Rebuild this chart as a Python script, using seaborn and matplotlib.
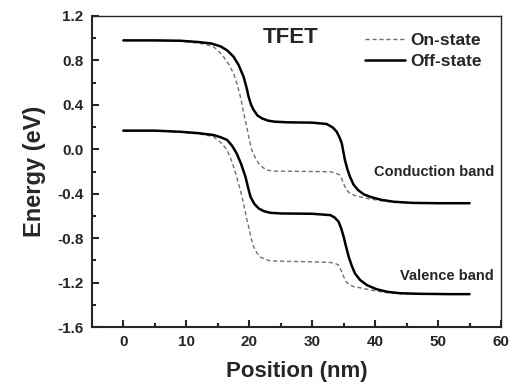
import matplotlib
matplotlib.use("Agg")
import matplotlib.pyplot as plt
from matplotlib.ticker import MultipleLocator
from matplotlib.lines import Line2D
import seaborn as sns
import pandas as pd

off_cb_x = [0, 5, 9, 12, 14, 15.5, 16.5, 17.5, 18.3, 19.1, 19.6, 19.9, 20.3, 20.7, 21.3, 22.0, 23.0, 24, 26, 30,
            32.3, 33.3, 33.9, 34.4, 34.7, 35.2, 35.6, 36.0, 36.6, 37.3, 38.2, 39.2, 41, 43, 46, 50, 55]
off_cb_y = [0.98, 0.98, 0.977, 0.965, 0.952, 0.925, 0.89, 0.834, 0.76, 0.653, 0.55, 0.473, 0.40, 0.354, 0.305,
            0.279, 0.258, 0.249, 0.243, 0.240, 0.228, 0.195, 0.158, 0.10, 0.054, -0.096, -0.18, -0.247, -0.32,
            -0.367, -0.405, -0.427, -0.455, -0.472, -0.482, -0.485, -0.485]

on_cb_x = [0, 5, 9, 12, 13.5, 14.3, 15.2, 15.9, 16.8, 17.5, 18.1, 18.6, 19.1, 19.6, 20.0, 20.4, 21.0, 21.5, 22.2,
           22.8, 24, 28, 32.9, 33.8, 34.4, 34.8, 35.2, 35.6, 36.0, 36.8, 37.6, 39, 40.3, 42, 44, 47, 50, 55]
on_cb_y = [0.98, 0.98, 0.975, 0.955, 0.937, 0.924, 0.88, 0.834, 0.76, 0.684, 0.58, 0.473, 0.33, 0.203, 0.09,
           -0.006, -0.08, -0.126, -0.165, -0.187, -0.196, -0.198, -0.202, -0.215, -0.232, -0.28, -0.337, -0.372,
           -0.397, -0.416, -0.427, -0.445, -0.457, -0.47, -0.478, -0.483, -0.485, -0.485]

off_vb_x = [0, 5, 9, 12, 14.3, 15.5, 16.5, 17.3, 18.0, 18.7, 19.4, 19.8, 20.2, 20.8, 21.5, 22.3, 23.3, 25, 30,
            32.9, 33.6, 34.2, 34.6, 35.0, 35.4, 35.8, 36.3, 36.8, 37.6, 38.7, 40.2, 41.9, 44, 47, 51.9, 55]
off_vb_y = [0.168, 0.168, 0.158, 0.145, 0.129, 0.108, 0.084, 0.03, -0.036, -0.13, -0.247, -0.34, -0.427, -0.49,
            -0.532, -0.556, -0.571, -0.577, -0.580, -0.592, -0.615, -0.652, -0.71, -0.787, -0.88, -0.967, -1.05,
            -1.117, -1.175, -1.222, -1.258, -1.282, -1.295, -1.300, -1.303, -1.303]

on_vb_x = [0, 5, 9, 12, 14.3, 15.5, 16.5, 17.3, 18.0, 18.6, 19.1, 19.5, 19.9, 20.3, 20.7, 21.2, 21.7, 22.5, 23.3,
           26, 30, 32.9, 33.7, 34.2, 34.6, 35.0, 35.4, 35.8, 36.6, 37.6, 39, 40.3, 42, 44, 47, 51.9, 55]
on_vb_y = [0.168, 0.168, 0.155, 0.14, 0.114, 0.06, -0.006, -0.12, -0.247, -0.37, -0.487, -0.6, -0.697, -0.8,
           -0.877, -0.93, -0.967, -0.99, -1.003, -1.008, -1.012, -1.018, -1.028, -1.042, -1.09, -1.147, -1.19,
           -1.216, -1.235, -1.246, -1.262, -1.276, -1.29, -1.298, -1.302, -1.303, -1.303]

x_ticks = [0, 10, 20, 30, 40, 50, 60]
y_ticks = [-1.6, -1.2, -0.8, -0.4, 0.0, 0.4, 0.8, 1.2]
legend_labels = ["On-state", "Off-state"]

# ---- styling ----
sns.set_theme(style="ticks")
plt.rcParams["font.family"] = ["Liberation Sans", "DejaVu Sans"]
plt.rcParams["font.weight"] = "bold"

fig = plt.figure(figsize=(5.16, 3.89), dpi=100)
ax = fig.add_axes([0.178, 0.159, 0.793, 0.800])

on_style = dict(color="#707070", linewidth=1.0, dashes=(3, 2))
off_style = dict(color="black", linewidth=1.8)

for xs, ys in [(on_cb_x, on_cb_y), (on_vb_x, on_vb_y)]:
    df = pd.DataFrame({"x": xs, "y": ys})
    sns.lineplot(data=df, x="x", y="y", ax=ax, estimator=None, sort=False, legend=False,
                 color=on_style["color"], linewidth=on_style["linewidth"])
    ax.lines[-1].set_dashes(on_style["dashes"])
for xs, ys in [(off_cb_x, off_cb_y), (off_vb_x, off_vb_y)]:
    df = pd.DataFrame({"x": xs, "y": ys})
    sns.lineplot(data=df, x="x", y="y", ax=ax, estimator=None, sort=False, legend=False,
                 color=off_style["color"], linewidth=off_style["linewidth"])

ax.set_xlim(-5, 60)
ax.set_ylim(-1.6, 1.2)
ax.set_xticks(x_ticks)
ax.set_yticks(y_ticks)
ax.set_yticklabels([f"{v:.1f}" for v in y_ticks])
ax.xaxis.set_minor_locator(MultipleLocator(5))
ax.yaxis.set_minor_locator(MultipleLocator(0.2))
ax.tick_params(which="major", direction="in", length=5, width=1.5, labelsize=11, pad=6)
ax.tick_params(which="minor", direction="in", length=3, width=1.5)
for lab in ax.get_xticklabels() + ax.get_yticklabels():
    lab.set_fontweight("bold")
for s in ax.spines.values():
    s.set_linewidth(1.5)
    s.set_visible(True)
ax.spines["top"].set_linewidth(1.0)
ax.spines["right"].set_linewidth(1.0)

ax.set_xlabel("Position (nm)", fontsize=16, fontweight="bold", labelpad=8)
ax.set_ylabel("Energy (eV)", fontsize=17, fontweight="bold", labelpad=8)

ax.text(22.2, 1.01, "TFET", fontsize=16, fontweight="bold", ha="left", va="center")
ax.text(58.9, -0.204, "Conduction band", fontsize=10.5, fontweight="bold", ha="right", va="center")
ax.text(58.9, -1.141, "Valence band", fontsize=10.5, fontweight="bold", ha="right", va="center")

handles = [Line2D([], [], color=on_style["color"], linewidth=on_style["linewidth"], dashes=on_style["dashes"]),
           Line2D([], [], color=off_style["color"], linewidth=off_style["linewidth"])]
leg = ax.legend(handles, legend_labels, loc="upper left", bbox_to_anchor=(0.667, 0.945), frameon=False,
                borderpad=0, borderaxespad=0, handlelength=2.3, handletextpad=0.3, labelspacing=0.35,
                prop={"size": 12.5, "weight": "bold"})

fig.savefig("out.png", dpi=100)
